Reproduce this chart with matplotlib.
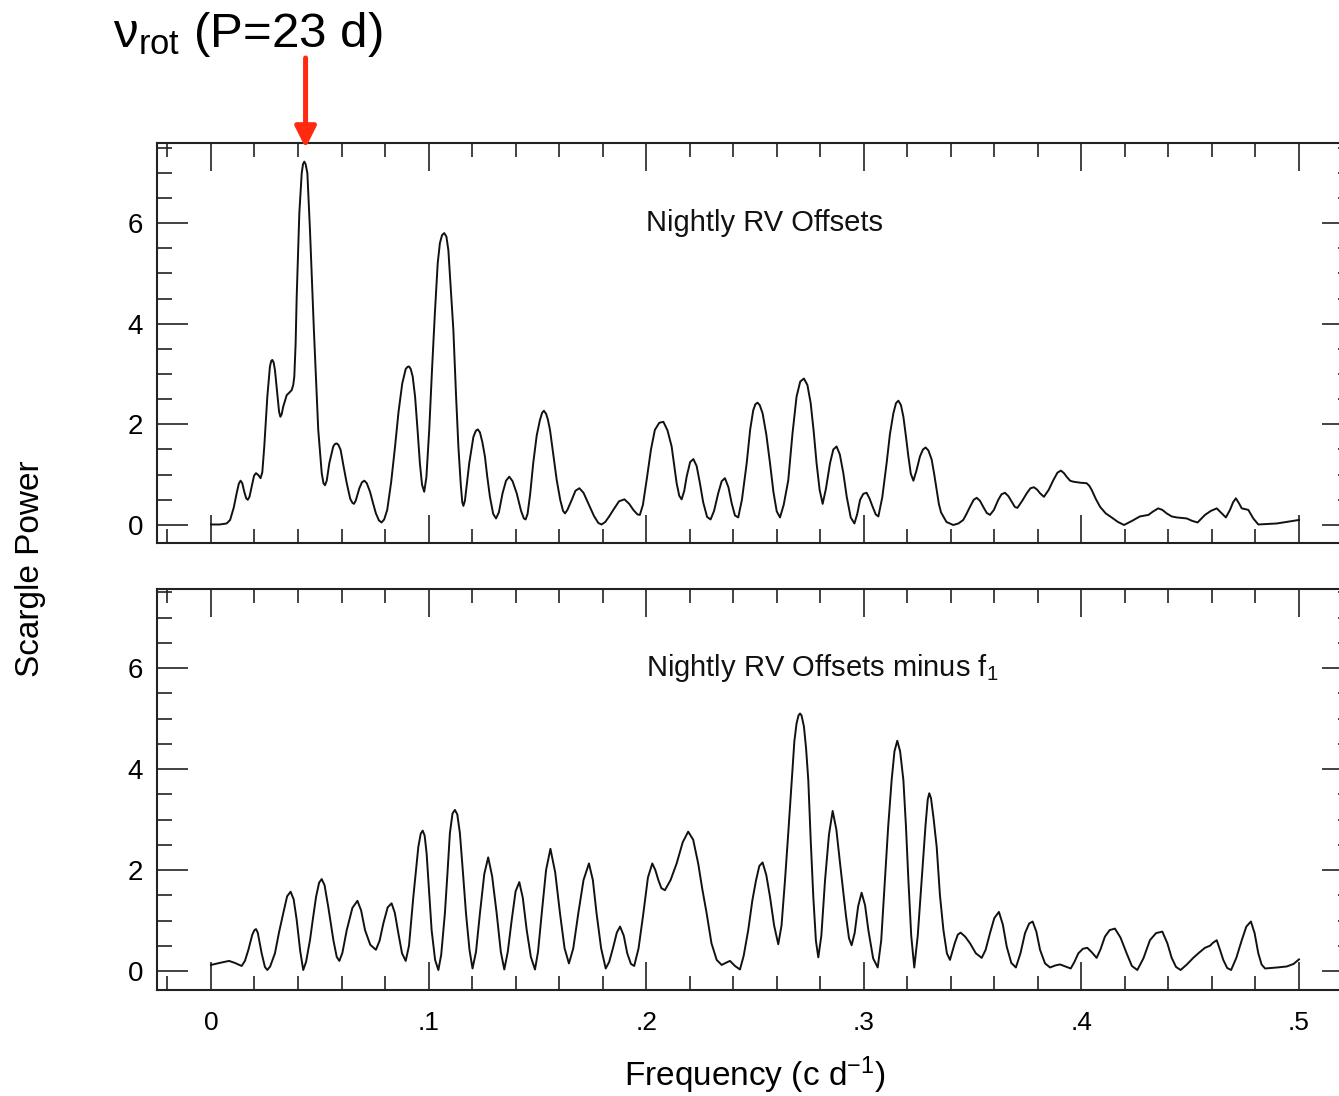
import matplotlib
matplotlib.use('Agg')
import matplotlib.pyplot as plt
from matplotlib.ticker import MultipleLocator

plt.rcParams['font.family'] = ['Liberation Sans', 'DejaVu Sans']
plt.rcParams['mathtext.fontset'] = 'custom'
plt.rcParams['mathtext.rm'] = 'Liberation Sans'
plt.rcParams['mathtext.it'] = 'Liberation Sans:italic'
plt.rcParams['mathtext.sf'] = 'Liberation Sans'

# periodogram of the nightly RV offsets
freq_top = [0.0000, 0.0040, 0.0072, 0.0088, 0.0105, 0.0118, 0.0128, 0.0136, 0.0144, 0.0153,
            0.0162, 0.0169, 0.0177, 0.0187, 0.0198, 0.0207, 0.0218, 0.0228, 0.0236, 0.0245,
            0.0259, 0.0271, 0.0277, 0.0282, 0.0288, 0.0294, 0.0306, 0.0313, 0.0319, 0.0325,
            0.0332, 0.0348, 0.0360, 0.0371, 0.0378, 0.0383, 0.0389, 0.0394, 0.0406, 0.0417,
            0.0423, 0.0429, 0.0435, 0.0443, 0.0455, 0.0473, 0.0493, 0.0509, 0.0517, 0.0524,
            0.0532, 0.0544, 0.0562, 0.0570, 0.0578, 0.0586, 0.0596, 0.0610, 0.0624, 0.0640,
            0.0650, 0.0657, 0.0665, 0.0682, 0.0694, 0.0705, 0.0716, 0.0731, 0.0745, 0.0758,
            0.0772, 0.0784, 0.0796, 0.0810, 0.0828, 0.0846, 0.0862, 0.0879, 0.0895, 0.0903,
            0.0910, 0.0918, 0.0927, 0.0938, 0.0950, 0.0960, 0.0970, 0.0980, 0.0990, 0.1003,
            0.1016, 0.1029, 0.1042, 0.1052, 0.1062, 0.1072, 0.1082, 0.1091, 0.1102, 0.1114,
            0.1126, 0.1137, 0.1148, 0.1155, 0.1160, 0.1167, 0.1177, 0.1187, 0.1206, 0.1217,
            0.1226, 0.1236, 0.1247, 0.1259, 0.1270, 0.1282, 0.1297, 0.1310, 0.1323, 0.1340,
            0.1356, 0.1371, 0.1386, 0.1405, 0.1425, 0.1438, 0.1446, 0.1455, 0.1467, 0.1481,
            0.1497, 0.1512, 0.1522, 0.1530, 0.1540, 0.1548, 0.1558, 0.1573, 0.1589, 0.1605,
            0.1618, 0.1627, 0.1638, 0.1658, 0.1675, 0.1693, 0.1712, 0.1734, 0.1760, 0.1780,
            0.1795, 0.1812, 0.1830, 0.1849, 0.1875, 0.1900, 0.1922, 0.1941, 0.1960, 0.1971,
            0.1985, 0.2002, 0.2022, 0.2040, 0.2060, 0.2079, 0.2098, 0.2117, 0.2130, 0.2140,
            0.2152, 0.2163, 0.2175, 0.2186, 0.2202, 0.2217, 0.2232, 0.2247, 0.2262, 0.2280,
            0.2296, 0.2312, 0.2331, 0.2347, 0.2362, 0.2378, 0.2393, 0.2408, 0.2423, 0.2440,
            0.2462, 0.2478, 0.2492, 0.2502, 0.2512, 0.2522, 0.2535, 0.2552, 0.2569, 0.2585,
            0.2600, 0.2615, 0.2632, 0.2653, 0.2672, 0.2691, 0.2708, 0.2725, 0.2741, 0.2756,
            0.2770, 0.2783, 0.2797, 0.2811, 0.2826, 0.2845, 0.2860, 0.2875, 0.2890, 0.2906,
            0.2922, 0.2940, 0.2957, 0.2970, 0.2983, 0.2998, 0.3013, 0.3027, 0.3040, 0.3055,
            0.3067, 0.3085, 0.3105, 0.3120, 0.3136, 0.3148, 0.3159, 0.3171, 0.3182, 0.3194,
            0.3205, 0.3216, 0.3228, 0.3242, 0.3258, 0.3272, 0.3284, 0.3297, 0.3312, 0.3324,
            0.3335, 0.3345, 0.3355, 0.3380, 0.3411, 0.3435, 0.3457, 0.3472, 0.3488, 0.3505,
            0.3519, 0.3534, 0.3549, 0.3565, 0.3580, 0.3598, 0.3618, 0.3633, 0.3649, 0.3665,
            0.3680, 0.3694, 0.3706, 0.3728, 0.3749, 0.3766, 0.3782, 0.3797, 0.3810, 0.3828,
            0.3850, 0.3871, 0.3890, 0.3906, 0.3920, 0.3932, 0.3948, 0.3963, 0.3995, 0.4024,
            0.4036, 0.4047, 0.4066, 0.4086, 0.4112, 0.4139, 0.4168, 0.4196, 0.4232, 0.4269,
            0.4308, 0.4330, 0.4353, 0.4372, 0.4392, 0.4415, 0.4438, 0.4484, 0.4510, 0.4534,
            0.4550, 0.4568, 0.4595, 0.4622, 0.4643, 0.4664, 0.4683, 0.4697, 0.4710, 0.4723,
            0.4737, 0.4767, 0.4790, 0.4813, 0.4898, 0.5000]
power_top = [0.01, 0.01, 0.03, 0.10, 0.35, 0.63, 0.82, 0.88, 0.83, 0.66,
             0.53, 0.50, 0.56, 0.76, 0.98, 1.03, 0.99, 0.93, 1.05, 1.56,
             2.55, 3.15, 3.26, 3.28, 3.23, 3.08, 2.55, 2.25, 2.15, 2.20,
             2.35, 2.58, 2.63, 2.68, 2.78, 2.95, 3.60, 4.54, 6.19, 6.99,
             7.17, 7.22, 7.17, 6.99, 5.86, 3.87, 1.89, 1.03, 0.83, 0.79,
             0.88, 1.23, 1.56, 1.61, 1.62, 1.59, 1.49, 1.15, 0.83, 0.52,
             0.44, 0.42, 0.48, 0.73, 0.85, 0.88, 0.83, 0.66, 0.43, 0.23,
             0.09, 0.05, 0.11, 0.30, 0.85, 1.56, 2.25, 2.81, 3.10, 3.14,
             3.15, 3.10, 2.95, 2.55, 1.85, 1.23, 0.80, 0.66, 0.95, 1.89,
             3.10, 4.21, 5.20, 5.60, 5.76, 5.80, 5.73, 5.46, 4.70, 3.87,
             2.60, 1.56, 0.80, 0.45, 0.38, 0.48, 0.85, 1.23, 1.75, 1.87,
             1.90, 1.84, 1.65, 1.36, 0.95, 0.56, 0.22, 0.13, 0.25, 0.63,
             0.88, 0.96, 0.87, 0.63, 0.28, 0.13, 0.11, 0.22, 0.62, 1.23,
             1.78, 2.09, 2.23, 2.27, 2.21, 2.10, 1.89, 1.40, 0.89, 0.50,
             0.28, 0.23, 0.30, 0.50, 0.68, 0.73, 0.64, 0.43, 0.18, 0.04,
             0.01, 0.06, 0.17, 0.30, 0.47, 0.51, 0.42, 0.30, 0.21, 0.20,
             0.40, 0.89, 1.50, 1.89, 2.03, 2.05, 1.88, 1.56, 1.15, 0.83,
             0.58, 0.51, 0.68, 0.96, 1.25, 1.31, 1.17, 0.83, 0.45, 0.16,
             0.11, 0.28, 0.63, 0.87, 0.93, 0.75, 0.43, 0.19, 0.15, 0.50,
             1.23, 1.90, 2.28, 2.40, 2.43, 2.38, 2.22, 1.80, 1.23, 0.65,
             0.27, 0.15, 0.40, 0.89, 1.80, 2.55, 2.85, 2.91, 2.78, 2.42,
             1.85, 1.23, 0.70, 0.42, 0.72, 1.23, 1.50, 1.56, 1.40, 1.03,
             0.55, 0.15, 0.03, 0.22, 0.50, 0.62, 0.64, 0.52, 0.37, 0.21,
             0.17, 0.55, 1.23, 1.80, 2.22, 2.42, 2.47, 2.38, 2.15, 1.75,
             1.36, 1.02, 0.88, 1.08, 1.36, 1.50, 1.54, 1.48, 1.30, 1.00,
             0.70, 0.42, 0.25, 0.06, 0.00, 0.03, 0.10, 0.22, 0.36, 0.50,
             0.54, 0.48, 0.36, 0.24, 0.20, 0.30, 0.50, 0.61, 0.64, 0.57,
             0.46, 0.36, 0.34, 0.48, 0.63, 0.73, 0.75, 0.70, 0.63, 0.56,
             0.70, 0.89, 1.04, 1.08, 1.03, 0.96, 0.88, 0.86, 0.84, 0.83,
             0.78, 0.70, 0.52, 0.36, 0.23, 0.15, 0.06, 0.00, 0.08, 0.17,
             0.20, 0.27, 0.33, 0.30, 0.23, 0.17, 0.15, 0.13, 0.08, 0.05,
             0.12, 0.20, 0.28, 0.33, 0.24, 0.15, 0.30, 0.45, 0.53, 0.44,
             0.33, 0.30, 0.13, 0.01, 0.03, 0.10]

# same after removing f1
freq_bot = [0.0000, 0.0040, 0.0083, 0.0110, 0.0141, 0.0156, 0.0172, 0.0190, 0.0200, 0.0207,
            0.0215, 0.0233, 0.0248, 0.0259, 0.0272, 0.0294, 0.0312, 0.0332, 0.0350, 0.0366,
            0.0380, 0.0394, 0.0410, 0.0424, 0.0437, 0.0455, 0.0470, 0.0483, 0.0497, 0.0509,
            0.0522, 0.0539, 0.0563, 0.0578, 0.0590, 0.0604, 0.0624, 0.0650, 0.0673, 0.0690,
            0.0708, 0.0732, 0.0758, 0.0775, 0.0792, 0.0812, 0.0830, 0.0845, 0.0861, 0.0878,
            0.0895, 0.0910, 0.0930, 0.0953, 0.0964, 0.0973, 0.0982, 0.0991, 0.1002, 0.1014,
            0.1030, 0.1045, 0.1058, 0.1075, 0.1087, 0.1098, 0.1110, 0.1121, 0.1132, 0.1144,
            0.1158, 0.1172, 0.1188, 0.1202, 0.1218, 0.1236, 0.1256, 0.1274, 0.1292, 0.1313,
            0.1332, 0.1348, 0.1364, 0.1382, 0.1400, 0.1417, 0.1433, 0.1451, 0.1470, 0.1489,
            0.1503, 0.1520, 0.1540, 0.1560, 0.1582, 0.1604, 0.1625, 0.1645, 0.1665, 0.1688,
            0.1712, 0.1737, 0.1755, 0.1772, 0.1793, 0.1814, 0.1830, 0.1849, 0.1865, 0.1880,
            0.1897, 0.1913, 0.1930, 0.1945, 0.1965, 0.1987, 0.2008, 0.2028, 0.2042, 0.2056,
            0.2070, 0.2086, 0.2112, 0.2140, 0.2168, 0.2193, 0.2216, 0.2239, 0.2258, 0.2278,
            0.2300, 0.2324, 0.2347, 0.2365, 0.2385, 0.2408, 0.2431, 0.2448, 0.2469, 0.2488,
            0.2505, 0.2520, 0.2535, 0.2552, 0.2569, 0.2588, 0.2607, 0.2622, 0.2638, 0.2654,
            0.2669, 0.2681, 0.2691, 0.2700, 0.2707, 0.2714, 0.2725, 0.2735, 0.2745, 0.2756,
            0.2768, 0.2780, 0.2791, 0.2805, 0.2822, 0.2840, 0.2857, 0.2874, 0.2891, 0.2918,
            0.2932, 0.2944, 0.2958, 0.2974, 0.2990, 0.3006, 0.3021, 0.3043, 0.3064, 0.3080,
            0.3097, 0.3112, 0.3128, 0.3141, 0.3154, 0.3167, 0.3182, 0.3194, 0.3205, 0.3218,
            0.3232, 0.3248, 0.3266, 0.3284, 0.3294, 0.3301, 0.3309, 0.3320, 0.3335, 0.3350,
            0.3366, 0.3382, 0.3396, 0.3418, 0.3432, 0.3445, 0.3466, 0.3488, 0.3515, 0.3542,
            0.3560, 0.3580, 0.3600, 0.3621, 0.3639, 0.3657, 0.3678, 0.3699, 0.3720, 0.3741,
            0.3760, 0.3776, 0.3793, 0.3810, 0.3833, 0.3856, 0.3880, 0.3902, 0.3926, 0.3951,
            0.3968, 0.3986, 0.4007, 0.4027, 0.4048, 0.4070, 0.4088, 0.4108, 0.4130, 0.4154,
            0.4180, 0.4208, 0.4232, 0.4257, 0.4285, 0.4315, 0.4343, 0.4372, 0.4395, 0.4415,
            0.4435, 0.4456, 0.4485, 0.4514, 0.4540, 0.4568, 0.4591, 0.4605, 0.4622, 0.4637,
            0.4652, 0.4670, 0.4688, 0.4712, 0.4737, 0.4758, 0.4779, 0.4796, 0.4813, 0.4828,
            0.4844, 0.4900, 0.4944, 0.4975, 0.5000]
power_bot = [0.12, 0.16, 0.20, 0.16, 0.10, 0.20, 0.42, 0.72, 0.81, 0.83,
             0.76, 0.35, 0.08, 0.02, 0.09, 0.35, 0.75, 1.14, 1.48, 1.57,
             1.42, 1.01, 0.40, 0.02, 0.18, 0.61, 1.08, 1.47, 1.75, 1.82,
             1.70, 1.27, 0.60, 0.28, 0.20, 0.36, 0.81, 1.25, 1.39, 1.20,
             0.81, 0.52, 0.42, 0.60, 0.94, 1.26, 1.34, 1.15, 0.75, 0.35,
             0.20, 0.50, 1.47, 2.46, 2.72, 2.78, 2.68, 2.33, 1.60, 0.81,
             0.22, 0.02, 0.32, 1.14, 1.95, 2.73, 3.12, 3.19, 3.10, 2.73,
             1.95, 1.14, 0.42, 0.05, 0.38, 1.14, 1.92, 2.25, 1.88, 1.14,
             0.38, 0.03, 0.38, 1.01, 1.58, 1.76, 1.45, 0.81, 0.28, 0.03,
             0.38, 1.14, 2.00, 2.42, 1.95, 1.14, 0.45, 0.15, 0.45, 1.14,
             1.80, 2.13, 1.80, 1.14, 0.45, 0.05, 0.18, 0.48, 0.76, 0.88,
             0.70, 0.35, 0.14, 0.10, 0.45, 1.14, 1.85, 2.13, 2.00, 1.80,
             1.64, 1.60, 1.80, 2.13, 2.55, 2.76, 2.60, 2.13, 1.62, 1.14,
             0.55, 0.22, 0.12, 0.16, 0.20, 0.10, 0.03, 0.30, 0.81, 1.40,
             1.80, 2.08, 2.15, 1.90, 1.47, 0.90, 0.53, 0.90, 1.80, 2.80,
             3.78, 4.55, 4.90, 5.06, 5.10, 5.06, 4.84, 4.40, 3.78, 2.60,
             1.47, 0.60, 0.27, 0.70, 1.80, 2.70, 3.17, 2.80, 2.13, 1.10,
             0.65, 0.51, 0.75, 1.28, 1.55, 1.30, 0.81, 0.25, 0.07, 0.60,
             1.80, 2.85, 3.78, 4.35, 4.56, 4.35, 3.78, 2.85, 1.80, 0.70,
             0.07, 0.70, 1.80, 2.90, 3.40, 3.52, 3.42, 3.05, 2.46, 1.50,
             0.81, 0.35, 0.22, 0.55, 0.72, 0.76, 0.68, 0.55, 0.35, 0.26,
             0.42, 0.75, 1.05, 1.17, 0.92, 0.48, 0.16, 0.07, 0.35, 0.75,
             0.94, 0.98, 0.78, 0.42, 0.15, 0.07, 0.11, 0.13, 0.09, 0.05,
             0.18, 0.35, 0.44, 0.46, 0.37, 0.26, 0.43, 0.68, 0.81, 0.84,
             0.66, 0.35, 0.10, 0.02, 0.25, 0.61, 0.75, 0.78, 0.55, 0.26,
             0.08, 0.02, 0.13, 0.26, 0.36, 0.46, 0.50, 0.56, 0.61, 0.42,
             0.22, 0.06, 0.02, 0.26, 0.61, 0.88, 0.98, 0.75, 0.35, 0.13,
             0.05, 0.07, 0.09, 0.14, 0.23]

x_ticks = [0.0, 0.1, 0.2, 0.3, 0.4, 0.5]
x_tick_labels = ['0', '.1', '.2', '.3', '.4', '.5']
y_ticks = [0, 2, 4, 6]
y_tick_labels = ['0', '2', '4', '6']
panel_labels = ['Nightly RV Offsets', 'Nightly RV Offsets minus f$_1$']
rot_period = 23.0  # days
f_rot = 1.0 / rot_period

fig = plt.figure(figsize=(13.39, 10.96), dpi=100)
ax_top = fig.add_axes([0.11725, 0.50456, 0.8935, 0.36451])
ax_bot = fig.add_axes([0.11725, 0.09672, 0.8935, 0.36588])

for ax, f, p, lab, ylim in [(ax_top, freq_top, power_top, panel_labels[0], (-0.358, 7.58)),
                            (ax_bot, freq_bot, power_bot, panel_labels[1], (-0.376, 7.565))]:
    ax.plot(f, p, color='#111111', lw=1.4, solid_joinstyle='round')
    ax.set_xlim(-0.0248, 0.525)
    ax.set_ylim(*ylim)
    ax.set_xticks(x_ticks)
    ax.set_yticks(y_ticks)
    ax.set_yticklabels(y_tick_labels, fontsize=20)
    ax.xaxis.set_minor_locator(MultipleLocator(0.02))
    ax.yaxis.set_minor_locator(MultipleLocator(0.5))
    ax.tick_params(which='both', direction='in', top=True, right=True, width=1.2, color='#222222')
    ax.tick_params(which='major', axis='x', length=20)
    ax.tick_params(which='minor', axis='x', length=10)
    ax.tick_params(which='major', axis='y', length=22, pad=10)
    ax.tick_params(which='minor', axis='y', length=11)
    for s in ax.spines.values():
        s.set_linewidth(1.5)
        s.set_color('#222222')
    ax.text(0.2, 6.0, lab, fontsize=21, ha='left', va='center', color='#111111')

ax_top.tick_params(labelbottom=False)
ax_bot.set_xticklabels(x_tick_labels, fontsize=19)
ax_bot.tick_params(axis='x', which='major', pad=15)
ax_bot.set_xlabel('Frequency (c d$^{-1}$)', fontsize=24, labelpad=14)

fig.text(31 / 1339, 1 - 569 / 1096, 'Scargle Power', rotation=90, fontsize=24,
         ha='center', va='center')

# rotation frequency marker
ax_top.annotate('', xy=(f_rot, 7.49), xytext=(f_rot, 1.214),
                xycoords='data', textcoords=('data', 'axes fraction'),
                arrowprops=dict(arrowstyle='-|>', color='#ff2a10', lw=3.6,
                                mutation_scale=32, shrinkA=0, shrinkB=0),
                annotation_clip=False)
fig.text(113 / 1339, 1 - 47 / 1096, r'$\mathrm{\nu}_{\mathrm{rot}}$ (P=23 d)', fontsize=35.5,
         ha='left', va='baseline')

fig.savefig('out.png', dpi=100)
